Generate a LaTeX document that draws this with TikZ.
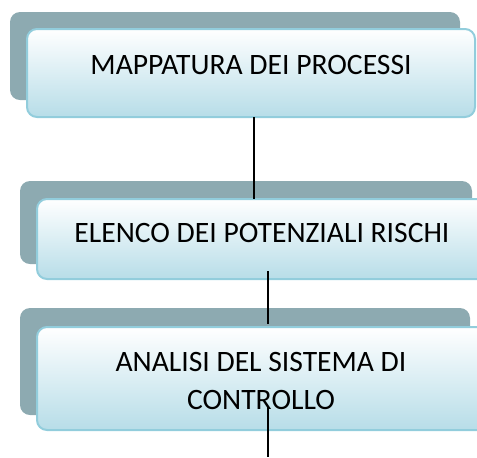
\documentclass[tikz,border=0pt]{standalone}
\usepackage{fontspec}
\setmainfont{Carlito}
\usetikzlibrary{positioning}
\definecolor{backgray}{HTML}{8DAAB1}
\definecolor{frontline}{HTML}{92CDDC}
\definecolor{frontblue}{HTML}{B7DDE8}
\tikzset{%
   back box/.style={
    rectangle, rounded corners=5pt,
    fill=backgray, draw=none,
    inner sep=0pt, outer sep=0pt
  },
   front box/.style={
    rectangle, rounded corners=5pt,
    top color=white, bottom color=frontblue,
    draw=frontline, line width=1pt,
    inner sep=0pt, outer sep=0pt
  },
   step text/.style={
    font=\fontsize{14.8}{19}\selectfont,
    align=center, inner sep=0pt
  },
   link/.style={draw=black, line width=0.75pt},
}

\begin{document}
\begin{tikzpicture}[x=0.5pt, y=-0.5pt]

\useasboundingbox (0,0) rectangle (477,457);

% back boxes
\foreach \m/\x/\y/\w/\h in {1/235/56/450/88, 2/246/222.5/452/83, 3/245/361.5/450/107}
  \node [back box, minimum width=\w*0.5pt, minimum height=\h*0.5pt] (back-\m) at (\x,\y) {};

% front boxes
\foreach \m/\x/\y/\w/\h in {1/251/73/448/88, 2/263/239/452/80, 3/263/378.5/452/103}
  \node [front box, minimum width=\w*0.5pt, minimum height=\h*0.5pt] (front-\m) at (\x,\y) {};

%%%%%%%%%%%%%%%%%%%%%%%%%%%%%%%%%%%%%%%%%%%%%%%%%%%%%%%%%%%%%%%%%%%%%%%%%%%%%
% labels

\foreach \m/\x/\y/\t in {1/251/65/{MAPPATURA DEI PROCESSI},
                         2/262/233/{ELENCO DEI POTENZIALI RISCHI},
                         3/261/381/{ANALISI DEL SISTEMA DI\\CONTROLLO}}
  \node [step text] (text-\m) at (\x,\y) {\t};

%%%%%%%%%%%%%%%%%%%%%%%%%%%%%%%%%%%%%%%%%%%%%%%%%%%%%%%%%%%%%%%%%%%%%%%%%%%%%
% connections

\coordinate (flow-end) at (268,457);

\draw [link] ([xshift=1.5pt]front-1.south) -- ([xshift=1.5pt]front-1.south |- front-2.north);
\draw [link] ([xshift=2.5pt, yshift=4pt]front-2.south) -- ([xshift=2.5pt, yshift=1.5pt]front-2.south |- front-3.north);
\draw [link] ([xshift=2.5pt, yshift=11.5pt]front-3.south) -- (flow-end);

\end{tikzpicture}
\end{document}
